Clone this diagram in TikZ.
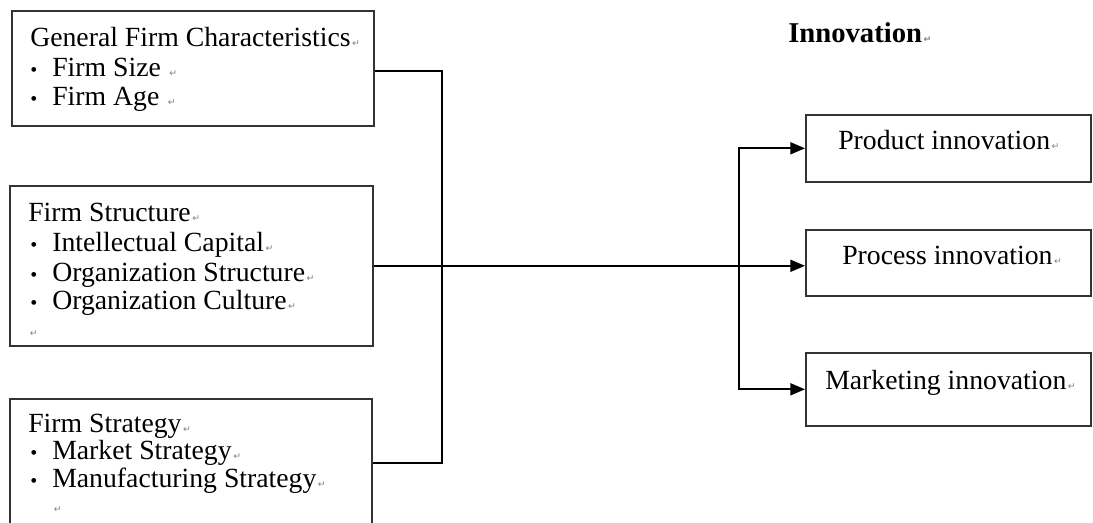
\documentclass[tikz,border=0pt]{standalone}
\usepackage{fontspec}
\setmainfont{Liberation Serif}
\newfontfamily\symfont{DejaVu Sans}
\usetikzlibrary{arrows.meta,calc}
\newcommand{\pmark}{{\symfont\fontsize{7}{7}\selectfont\color{gray}\,↵}}

\begin{document}
\begin{tikzpicture}[
    x=0.75pt, y=-0.75pt, >={Triangle[length=11pt,width=9pt]},
    box/.style={draw=black!80, line width=1.2pt, anchor=north west, inner sep=0pt},
    txt/.style={anchor=base west, inner sep=0pt, font=\fontsize{20.8}{22}\selectfont},
    bul/.style={anchor=base west, inner sep=0pt, font=\fontsize{15}{15}\selectfont},
    conn/.style={line width=1.3pt, black},
    arr/.style={conn, ->},
  ]
  \useasboundingbox (0,0) rectangle (1093,523);
  \clip (0,0) rectangle (1093,523);

  % --- left boxes (drivers) ---
  \node[box, minimum width=271.5pt, minimum height=86.25pt] (gen) at (11,10) {};
  \node[box, minimum width=272.25pt, minimum height=120pt] (struct) at (9,185) {};
  \node[box, minimum width=271.5pt, minimum height=96pt] (strat) at (9,398) {};

  \node[txt] (genh) at ($(gen.north west)+(19,37)$) {General Firm Characteristics\pmark};
  \foreach \y/\lab in {67/Firm Size, 96/Firm Age}{
    \node[bul] at ($(gen.north west)+(19,\y)$) {\textbullet};
    \node[txt] at ($(gen.north west)+(41,\y)$) {\lab\ \pmark};
  }

  \node[txt] (structh) at ($(struct.north west)+(19,37)$) {Firm Structure\pmark};
  \foreach \y/\lab in {67/Intellectual Capital, 97/Organization Structure, 125/Organization Culture}{
    \node[bul] at ($(struct.north west)+(21,\y)$) {\textbullet};
    \node[txt] at ($(struct.north west)+(43,\y)$) {\lab\pmark};
  }
  \node[txt] at ($(struct.north west)+(19,152)$) {\pmark};

  \node[txt] (strath) at ($(strat.north west)+(19,35)$) {Firm Strategy\pmark};
  \foreach \y/\lab in {62/Market Strategy, 90/Manufacturing Strategy}{
    \node[bul] at ($(strat.north west)+(21,\y)$) {\textbullet};
    \node[txt] at ($(strat.north west)+(43,\y)$) {\lab\pmark};
  }
  \node[txt] at ($(strat.north west)+(43,115)$) {\pmark};

  % --- right boxes (innovation types) ---
  \node[txt, font=\bfseries\fontsize{21.5}{22}\selectfont] (title) at (788,43) {Innovation\pmark};
  \node[box, minimum width=213.75pt, minimum height=50.25pt] (prod) at (805,114) {};
  \node[box, minimum width=213.75pt, minimum height=49.5pt] (proc) at (805,229) {};
  \node[box, minimum width=213.75pt, minimum height=54.75pt] (mkt) at (805,352) {};
  \node[txt] at ($(prod.north west)+(33,36)$) {Product innovation\pmark};
  \node[txt] at ($(proc.north west)+(37,36)$) {Process innovation\pmark};
  \node[txt] at ($(mkt.north west)+(20,38)$) {Marketing innovation\pmark};

  % --- connectors ---
  \coordinate (spine) at (442,0);
  \coordinate (fork) at (739,0);
  \draw[conn] ($(gen.east)+(0,3)$) -| (spine |- strat.east) -- (strat.east);
  \draw[arr] (struct.east) -- (struct.east -| proc.west);
  \draw[arr] (fork |- struct.east) |- (prod.west);
  \draw[arr] (fork |- struct.east) |- (mkt.west);
\end{tikzpicture}
\end{document}
